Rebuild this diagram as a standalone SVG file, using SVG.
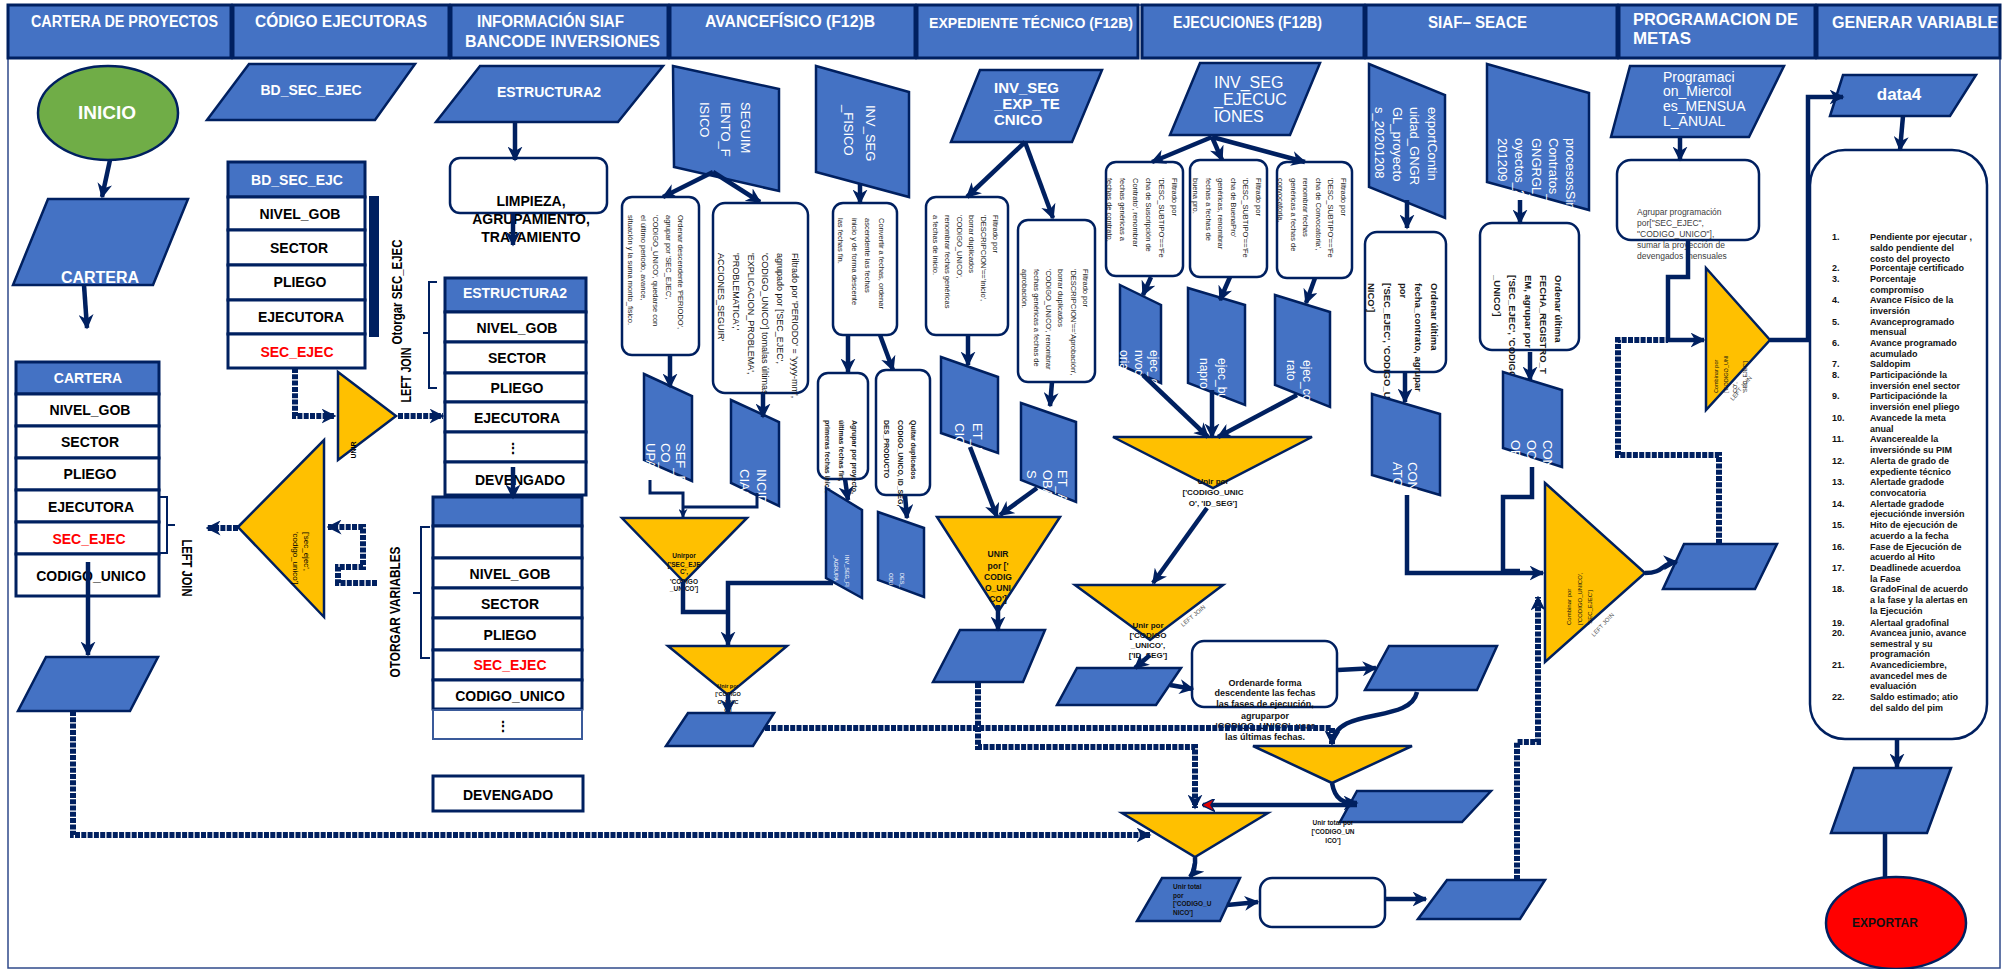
<svg xmlns="http://www.w3.org/2000/svg" width="2002" height="969" viewBox="0 0 2002 969">
<defs>
<style>
text{font-family:"Liberation Sans",Arial,sans-serif}
.h{fill:#4472C4;stroke:#002060;stroke-width:3}
.ht{font-weight:bold;font-size:16px;fill:#fff}
.io{fill:#4472C4;stroke:#002060;stroke-width:2.5}
.tr{fill:#FFC000;stroke:#002060;stroke-width:2.5}
.bx{fill:#fff;stroke:#002060;stroke-width:2.5}
.rw{fill:#fff;stroke:#002060;stroke-width:3}
.rh{fill:#4472C4;stroke:#002060;stroke-width:3}
.tb{font-weight:bold;font-size:14px;fill:#000;text-anchor:middle}
.tw{font-weight:bold;font-size:14px;fill:#fff;text-anchor:middle}
.red{fill:#FF0000}
.sw{font-size:13px;fill:#fff}
.n7{font-size:7.5px;fill:#1a1a1a}
.n7b{font-size:7px;fill:#1a1a1a;font-weight:bold}
.n9b{font-size:9.5px;fill:#1a1a1a;font-weight:bold}
.tiny{font-size:6.5px;fill:#111;font-weight:bold;text-anchor:middle}
.tl{font-size:8.5px;fill:#111;font-weight:bold;text-anchor:middle}
.gj{font-size:6px;fill:#555}
.li{font-size:9px;font-weight:bold;fill:#111}
.ln{fill:none;stroke:#002060;stroke-width:4.5;marker-end:url(#ah)}
.l3{fill:none;stroke:#002060;stroke-width:3;marker-end:url(#as)}
.pl{fill:none;stroke:#002060;stroke-width:4.5}
.ds{fill:none;stroke:#002060;stroke-width:6;stroke-dasharray:5 1.3}
.da{fill:none;stroke:#002060;stroke-width:6;stroke-dasharray:5 1.3;marker-end:url(#ah)}
.lr{fill:none;stroke:#002060;stroke-width:4.5;marker-end:url(#ar)}
.br{fill:none;stroke:#002060;stroke-width:2}
</style>
<marker id="ah" viewBox="0 0 10 10" refX="9" refY="5" markerWidth="15" markerHeight="15" markerUnits="userSpaceOnUse" orient="auto"><path d="M0,0 L10,5 L0,10 L3,5 z" fill="#002060"/></marker>
<marker id="as" viewBox="0 0 10 10" refX="9" refY="5" markerWidth="9" markerHeight="9" markerUnits="userSpaceOnUse" orient="auto"><path d="M0,0 L10,5 L0,10 L3,5 z" fill="#002060"/></marker>
<marker id="ar" viewBox="0 0 10 10" refX="9" refY="5" markerWidth="13" markerHeight="13" markerUnits="userSpaceOnUse" orient="auto"><path d="M0,0 L10,5 L0,10 L3,5 z" fill="#E00000" stroke="#002060" stroke-width="1"/></marker>
</defs>
<rect x="8" y="5" width="1992" height="963" fill="#fff" stroke="#2F4A8A" stroke-width="1.5"/>

<g id="header">
<rect class="h" x="8" y="5" width="223" height="53"/>
<rect class="h" x="233" y="5" width="216" height="53"/>
<rect class="h" x="451" y="5" width="217" height="53"/>
<rect class="h" x="670" y="5" width="245" height="53"/>
<rect class="h" x="917" y="5" width="221" height="53"/>
<rect class="h" x="1142" y="5" width="222" height="53"/>
<rect class="h" x="1366" y="5" width="251" height="53"/>
<rect class="h" x="1619" y="5" width="196" height="53"/>
<rect class="h" x="1817" y="5" width="183" height="53"/>
<text class="ht" x="31" y="27" textLength="187" lengthAdjust="spacingAndGlyphs">CARTERA DE PROYECTOS</text>
<text class="ht" x="255" y="27" textLength="172" lengthAdjust="spacingAndGlyphs">CÓDIGO EJECUTORAS</text>
<text class="ht" x="477" y="27" textLength="147" lengthAdjust="spacingAndGlyphs">INFORMACIÓN SIAF</text>
<text class="ht" x="465" y="47" textLength="195" lengthAdjust="spacingAndGlyphs">BANCODE INVERSIONES</text>
<text class="ht" x="705" y="27" textLength="170" lengthAdjust="spacingAndGlyphs">AVANCEFÍSICO (F12)B</text>
<text class="ht" x="929" y="28" textLength="204" lengthAdjust="spacingAndGlyphs" style="font-size:14px">EXPEDIENTE TÉCNICO (F12B)</text>
<text class="ht" x="1173" y="28" textLength="149" lengthAdjust="spacingAndGlyphs">EJECUCIONES (F12B)</text>
<text class="ht" x="1428" y="28" textLength="99" lengthAdjust="spacingAndGlyphs">SIAF– SEACE</text>
<text class="ht" x="1633" y="25" textLength="165" lengthAdjust="spacingAndGlyphs">PROGRAMACION DE</text>
<text class="ht" x="1633" y="44" textLength="58" lengthAdjust="spacingAndGlyphs">METAS</text>
<text class="ht" x="1832" y="28" textLength="166" lengthAdjust="spacingAndGlyphs">GENERAR VARIABLE</text>
</g>

<!-- Column 1 -->
<g id="inicio"><ellipse cx="108" cy="113" rx="70" ry="47" fill="#70AD47" stroke="#002060" stroke-width="2.5"/><text x="107" y="119" text-anchor="middle" font-weight="bold" font-size="19" fill="#fff">INICIO</text></g>
<g id="cartera-in"><polygon class="io" points="48,199 188,199 153,285 13,285"/><text class="tw" x="100" y="283" style="font-size:16px">CARTERA</text></g>
<g id="cartera-table">
<rect class="rh" x="16" y="362" width="143" height="32"/><text class="tw" x="88" y="383">CARTERA</text>
<rect class="rw" x="16" y="394" width="143" height="32"/><text class="tb" x="90" y="415">NIVEL_GOB</text>
<rect class="rw" x="16" y="426" width="143" height="32"/><text class="tb" x="90" y="447">SECTOR</text>
<rect class="rw" x="16" y="458" width="143" height="32"/><text class="tb" x="90" y="479">PLIEGO</text>
<rect class="rw" x="16" y="490" width="143" height="32"/><text class="tb" x="91" y="512">EJECUTORA</text>
<rect class="rw" x="16" y="522" width="143" height="32"/><text class="tb red" x="89" y="544">SEC_EJEC</text>
<rect class="rw" x="16" y="554" width="143" height="42"/><text class="tb" x="91" y="581">CODIGO_UNICO</text>
</g>
<g id="leftjoin1"><path class="br" d="M160,497 H167 V553 H160 M167,525 H175"/><text transform="translate(182,568) rotate(90)" text-anchor="middle" font-weight="bold" font-size="14" textLength="57" lengthAdjust="spacingAndGlyphs">LEFT JOIN</text></g>
<g id="cartera-out"><polygon class="io" points="46,657 158,657 130,711 18,711"/></g>

<!-- Column 2 -->
<g id="bd-sec-ejec"><polygon class="io" points="249,64 415,64 375,120 207,120"/><text class="tw" x="311" y="95">BD_SEC_EJEC</text></g>
<g id="bd-sec-ejc-table">
<rect class="rh" x="228" y="162" width="137" height="35"/><text class="tw" x="297" y="185">BD_SEC_EJC</text>
<rect class="rw" x="228" y="197" width="137" height="33"/><text class="tb" x="300" y="219">NIVEL_GOB</text>
<rect class="rw" x="228" y="230" width="137" height="35"/><text class="tb" x="299" y="253">SECTOR</text>
<rect class="rw" x="228" y="265" width="137" height="35"/><text class="tb" x="300" y="287">PLIEGO</text>
<rect class="rw" x="228" y="300" width="137" height="34"/><text class="tb" x="301" y="322">EJECUTORA</text>
<rect class="rw" x="228" y="334" width="137" height="34"/><text class="tb red" x="297" y="357">SEC_EJEC</text>
<rect x="369" y="196" width="10" height="141" fill="#002060"/>
</g>
<g id="otorgar-sec"><text transform="translate(402,292) rotate(-90)" text-anchor="middle" font-weight="bold" font-size="14" textLength="105" lengthAdjust="spacingAndGlyphs">Otorgar SEC_EJEC</text>
<text transform="translate(411,375) rotate(-90)" text-anchor="middle" font-weight="bold" font-size="14" textLength="55" lengthAdjust="spacingAndGlyphs">LEFT JOIN</text></g>
<g id="unir1"><polygon class="tr" points="338,372 338,460 396,416"/><text transform="translate(356,450) rotate(-90)" text-anchor="middle" font-size="7" font-weight="bold">UNIR</text></g>
<g id="leftjoin-tri"><polygon class="tr" points="238,527 324,440 324,617"/><text transform="translate(304,532) rotate(90)" font-size="8"><tspan x="0" y="0">['sec_ejec',</tspan><tspan x="0" y="11">'codigo_unico']</tspan></text></g>

<!-- Column 3 -->
<g id="estructura2-in"><polygon class="io" points="480,66 663,66 618,122 436,122"/><text class="tw" x="549" y="97">ESTRUCTURA2</text></g>
<g id="limpieza"><rect class="bx" x="450" y="158" width="157" height="55" rx="10"/><text class="tb" x="531" y="206"><tspan x="531">LIMPIEZA,</tspan><tspan x="531" y="224">AGRUPAMIENTO,</tspan><tspan x="531" y="242">TRATAMIENTO</tspan></text></g>
<g id="estructura2-table">
<rect class="rh" x="445" y="278" width="141" height="34"/><text class="tw" x="515" y="298">ESTRUCTURA2</text>
<rect class="rw" x="445" y="312" width="141" height="30"/><text class="tb" x="517" y="333">NIVEL_GOB</text>
<rect class="rw" x="445" y="342" width="141" height="31"/><text class="tb" x="517" y="363">SECTOR</text>
<rect class="rw" x="445" y="373" width="141" height="29"/><text class="tb" x="517" y="393">PLIEGO</text>
<rect class="rw" x="445" y="402" width="141" height="30"/><text class="tb" x="517" y="423">EJECUTORA</text>
<rect class="rw" x="445" y="432" width="141" height="30"/><text class="tb" x="513" y="453">⋮</text>
<rect class="rw" x="445" y="462" width="141" height="33"/><text class="tb" x="520" y="485">DEVENGADO</text>
</g>
<g id="bracket-otorgar"><path class="br" d="M437,282 H429 V388 H437 M429,333 H423"/></g>
<g id="variables-table">
<rect class="rh" x="433" y="497" width="149" height="29"/>
<rect class="rw" x="433" y="526" width="149" height="32"/>
<rect class="rw" x="433" y="558" width="149" height="30"/><text class="tb" x="510" y="579">NIVEL_GOB</text>
<rect class="rw" x="433" y="588" width="149" height="30"/><text class="tb" x="510" y="609">SECTOR</text>
<rect class="rw" x="433" y="618" width="149" height="32"/><text class="tb" x="510" y="640">PLIEGO</text>
<rect class="rw" x="433" y="650" width="149" height="30"/><text class="tb red" x="510" y="670">SEC_EJEC</text>
<rect class="rw" x="433" y="680" width="149" height="29"/><text class="tb" x="510" y="701">CODIGO_UNICO</text>
<rect x="433" y="710" width="149" height="29" fill="#fff" stroke="#3A5A9A" stroke-width="2"/><text class="tb" x="503" y="731">⋮</text>
</g>
<g id="otorgar-vars"><path class="br" d="M430,527 H421 V658 H430 M421,593 H413"/><text transform="translate(400,612) rotate(-90)" text-anchor="middle" font-weight="bold" font-size="14" textLength="131" lengthAdjust="spacingAndGlyphs">OTORGAR VARIABLES</text></g>
<g id="devengado"><rect class="rw" x="433" y="776" width="150" height="35"/><text class="tb" x="508" y="800">DEVENGADO</text></g>

<!-- Column 4 -->
<g id="seguimiento-fisico"><polygon class="io" points="673,66 779,89 779,191 674,167"/><text class="sw" transform="translate(741,102) rotate(90)"><tspan x="0" y="0">SEGUIM</tspan><tspan x="0" y="20.5">IENTO_F</tspan><tspan x="0" y="41">ISICO</tspan></text></g>
<g id="af-ordenar"><rect class="bx" x="622" y="197" width="77" height="158" rx="10"/><text class="n7" transform="translate(678,215) rotate(90)"><tspan x="0" y="0">Ordenar descendente 'PERIODO',</tspan><tspan x="0" y="12.5">agrupar por 'SEC_EJEC',</tspan><tspan x="0" y="25">'CODIGO_UNICO', quedarse con</tspan><tspan x="0" y="37.5">el último periodo, avance,</tspan><tspan x="0" y="50">situación y la suma monto_fisico.</tspan></text></g>
<g id="af-filtrado"><rect class="bx" x="713" y="203" width="95" height="190" rx="12"/><text transform="translate(792,253) rotate(90)" font-size="9" fill="#111"><tspan x="0" y="0">Filtrado por 'PERIODO' = 'yyyy-mm',</tspan><tspan x="0" y="14.8">agrupado por ['SEC_EJEC',</tspan><tspan x="0" y="29.6">'CODIGO_UNICO'] tomalas últimas</tspan><tspan x="0" y="44.4">'EXPLICACION_PROBLEMA',</tspan><tspan x="0" y="59.2">'PROBLEMATICA','</tspan><tspan x="0" y="74">ACCIONES_SEGUIR'</tspan></text></g>
<g id="sef-fisico-agrupado"><polygon class="io" points="644,374 692,396 692,481 644,460"/><text class="sw" transform="translate(676,443) rotate(90)"><tspan x="0" y="0">SEF_FISI</tspan><tspan x="0" y="15">CO_AGR</tspan><tspan x="0" y="30">UPADO</tspan></text></g>
<g id="incidencias"><polygon class="io" points="731,400 779,422 779,506 731,483"/><text class="sw" transform="translate(757,469) rotate(90)"><tspan x="0" y="0">INCIDEN</tspan><tspan x="0" y="17">CIAS</tspan></text></g>
<g id="af-unir"><polygon class="tr" points="622,518 747,518 684,582"/><text class="tiny" x="684" y="558">Unirpor</text><text class="tiny" x="684" y="567">['SEC_EJE</text><text class="tiny" x="684" y="574">C',</text><text class="tiny" x="684" y="584">'CODIGO</text><text class="tiny" x="684" y="591">_UNICO']</text></g>
<g id="af-unir2"><polygon class="tr" points="668,646 787,646 728,695"/><text class="tiny" x="728" y="688" style="font-size:5.5px">Unir por</text><text class="tiny" x="728" y="696" style="font-size:5.5px">['CODIGO</text><text class="tiny" x="728" y="704" style="font-size:5.5px">O_UNIC</text><text class="tiny" x="728" y="712" style="font-size:5.5px">O']</text></g>
<g id="af-out"><polygon class="io" points="688,713 774,713 753,746 666,746"/></g>
<g id="inv-seg-fisico"><polygon class="io" points="816,66 909,92 909,197 816,172"/><text class="sw" transform="translate(866,105) rotate(90)"><tspan x="0" y="0">INV_SEG</tspan><tspan x="0" y="22">_FISICO</tspan></text></g>
<g id="af-convertir"><rect class="bx" x="833" y="203" width="64" height="132" rx="10"/><text class="n7" transform="translate(879,218) rotate(90)"><tspan x="0" y="0">Convertir a fechas, ordenar</tspan><tspan x="0" y="13.7">ascendente las fechas</tspan><tspan x="0" y="27.4">inicio y de forma descente</tspan><tspan x="0" y="41">las fechas fin.</tspan></text></g>
<g id="af-agrupar"><rect class="bx" x="818" y="373" width="50" height="106" rx="10"/><text class="n7b" transform="translate(852,420) rotate(90)"><tspan x="0" y="0">Agrupar por proyecto,</tspan><tspan x="0" y="13.5">últimas fechas fin,</tspan><tspan x="0" y="27">primeras fechas inicio</tspan></text></g>
<g id="af-quitar"><rect class="bx" x="876" y="370" width="54" height="125" rx="10"/><text class="n7b" transform="translate(911,420) rotate(90)"><tspan x="0" y="0">Quitar duplicados</tspan><tspan x="0" y="13.5">CODIGO_UNICO, ID_SEG,</tspan><tspan x="0" y="27">DES_PRODUCTO</tspan></text></g>
<g id="inv-seg-fi-agrupa"><polygon class="io" points="826,488 862,510 862,598 826,578"/><text transform="translate(845,555) rotate(90)" font-size="5.5" fill="#fff"><tspan x="0" y="0">INV_SEG_FI</tspan><tspan x="0" y="11">_AGRUPA</tspan></text></g>
<g id="des-producto"><polygon class="io" points="878,512 924,528 924,597 878,580"/><text transform="translate(900,573) rotate(90)" font-size="5.5" fill="#fff"><tspan x="0" y="0">DES_</tspan><tspan x="0" y="11">ODU</tspan></text></g>

<!-- Column 5 -->
<g id="inv-seg-exp-tecnico"><polygon class="io" points="980,70 1102,70 1072,142 951,142"/><text font-weight="bold" font-size="15" fill="#fff"><tspan x="994" y="93">INV_SEG</tspan><tspan x="994" y="109">_EXP_TE</tspan><tspan x="994" y="125">CNICO</tspan></text></g>
<g id="et-inicio-box"><rect class="bx" x="926" y="197" width="82" height="138" rx="10"/><text class="n7" transform="translate(993,215) rotate(90)"><tspan x="0" y="0">Filtrado por</tspan><tspan x="0" y="12">'DESCRIPCION'=='Inicio',</tspan><tspan x="0" y="24">borrar duplicados</tspan><tspan x="0" y="36">'CODIGO_UNICO',</tspan><tspan x="0" y="48">renombrar fechas genéricas</tspan><tspan x="0" y="60">a fechas de inicio.</tspan></text></g>
<g id="et-aprob-box"><rect class="bx" x="1018" y="220" width="77" height="162" rx="10"/><text class="n7" transform="translate(1083,269) rotate(90)"><tspan x="0" y="0">Filtrado por</tspan><tspan x="0" y="12.3">'DESCRIPCION'=='Aprobación',</tspan><tspan x="0" y="24.6">borrar duplicados</tspan><tspan x="0" y="36.9">'CODIGO_UNICO', renombrar</tspan><tspan x="0" y="49.2">fechas genéricas a fechas de</tspan><tspan x="0" y="61.5">aprobación.</tspan></text></g>
<g id="et-inicio"><polygon class="io" points="941,357 998,377 998,453 941,433"/><text class="sw" transform="translate(973,423) rotate(90)"><tspan x="0" y="0">ET_INI</tspan><tspan x="0" y="18">CIO</tspan></text></g>
<g id="et-aprobados"><polygon class="io" points="1021,403 1076,422 1076,502 1021,480"/><text class="sw" transform="translate(1058,470) rotate(90)"><tspan x="0" y="0">ET_APR</tspan><tspan x="0" y="15.5">OBADO</tspan><tspan x="0" y="31">S</tspan></text></g>
<g id="et-unir"><polygon class="tr" points="937,517 1060,517 998,612"/><text class="tl" x="998" y="557">UNIR</text><text class="tl" x="998" y="569">por ['</text><text class="tl" x="998" y="580">CODIG</text><text class="tl" x="998" y="591">O_UNI</text><text class="tl" x="998" y="602">CO']</text></g>
<g id="et-out"><polygon class="io" points="960,630 1045,630 1023,682 933,682"/></g>

<!-- Column 6 -->
<g id="inv-seg-ejecuciones"><polygon class="io" points="1200,63 1320,63 1290,135 1170,135"/><text font-size="16" fill="#fff"><tspan x="1214" y="88">INV_SEG</tspan><tspan x="1214" y="105">_EJECUC</tspan><tspan x="1214" y="122">IONES</tspan></text></g>
<g id="ej-contrato-box"><rect class="bx" x="1106" y="162" width="77" height="114" rx="10"/><text class="n7" transform="translate(1172,178) rotate(90)"><tspan x="0" y="0">Filtrado por</tspan><tspan x="0" y="13">'DESC_SUBTIPO'=='Fe</tspan><tspan x="0" y="26">cha de Suscripción de</tspan><tspan x="0" y="39">Contrato', renombrar</tspan><tspan x="0" y="52">fechas genéricas a</tspan><tspan x="0" y="65">fechas de contrato.</tspan></text></g>
<g id="ej-buenapro-box"><rect class="bx" x="1190" y="160" width="77" height="117" rx="10"/><text class="n7" transform="translate(1256,178) rotate(90)"><tspan x="0" y="0">Filtrado por</tspan><tspan x="0" y="12.6">'DESC_SUBTIPO'=='Fe</tspan><tspan x="0" y="25.2">cha de BuenaPro'</tspan><tspan x="0" y="37.8">genéricas, renombrar</tspan><tspan x="0" y="50.4">fechas a fechas de</tspan><tspan x="0" y="63">buena pro.</tspan></text></g>
<g id="ej-convoc-box"><rect class="bx" x="1277" y="162" width="75" height="116" rx="10"/><text class="n7" transform="translate(1341,178) rotate(90)"><tspan x="0" y="0">Filtrado por</tspan><tspan x="0" y="12.6">'DESC_SUBTIPO'=='Fe</tspan><tspan x="0" y="25.2">cha de Convocatoria',</tspan><tspan x="0" y="37.8">renombrar fechas</tspan><tspan x="0" y="50.4">genéricas a fechas de</tspan><tspan x="0" y="63">convocatoria.</tspan></text></g>
<g id="ejec-convocatoria"><polygon class="io" points="1120,285 1161,305 1161,383 1120,365"/><text transform="translate(1150,350) rotate(90)" font-size="12" fill="#fff"><tspan x="0" y="0">ejec_co</tspan><tspan x="0" y="15">nvocat</tspan><tspan x="0" y="30">oria</tspan></text></g>
<g id="ejec-buenapro"><polygon class="io" points="1188,288 1245,305 1245,405 1188,383"/><text transform="translate(1218,358) rotate(90)" font-size="12" fill="#fff"><tspan x="0" y="0">ejec_bue</tspan><tspan x="0" y="18">napro</tspan></text></g>
<g id="ejec-contrato"><polygon class="io" points="1275,295 1330,312 1330,407 1275,385"/><text transform="translate(1303,360) rotate(90)" font-size="12" fill="#fff"><tspan x="0" y="0">ejec_con</tspan><tspan x="0" y="16">rato</tspan></text></g>
<g id="ej-unir"><polygon class="tr" points="1113,437 1312,437 1213,488"/><text class="tl" x="1213" y="484" style="font-size:8px">Unir por</text><text class="tl" x="1213" y="495" style="font-size:8px">['CODIGO_UNIC</text><text class="tl" x="1213" y="506" style="font-size:8px">O', 'ID_SEG']</text></g>
<g id="ej-unir2"><polygon class="tr" points="1075,585 1223,585 1150,640"/><text class="tl" x="1148" y="628" style="font-size:8px">Unir por</text><text class="tl" x="1148" y="638" style="font-size:8px">['CODIGO</text><text class="tl" x="1148" y="648" style="font-size:8px">_UNICO',</text><text class="tl" x="1148" y="658" style="font-size:8px">['ID_SEG']</text><text class="gj" transform="translate(1183,627) rotate(-40)">LEFT JOIN</text></g>
<g id="ej-out"><polygon class="io" points="1077,668 1181,668 1156,705 1057,705"/></g>
<g id="ej-ordenar"><rect class="bx" x="1192" y="641" width="145" height="66" rx="12"/><text class="tl" style="font-size:9px"><tspan x="1265" y="686">Ordenarde forma</tspan><tspan x="1265" y="696">descendente las fechas</tspan><tspan x="1265" y="707">las fases de ejecución,</tspan><tspan x="1265" y="719">agruparpor</tspan><tspan x="1265" y="729">'CODIGO_UNICO', usar</tspan><tspan x="1265" y="740">las últimas fechas.</tspan></text></g>
<g id="ej-fases"><polygon class="io" points="1389,646 1497,646 1477,690 1365,690"/></g>
<g id="mid-unir"><polygon class="tr" points="1253,746 1412,746 1332,783"/></g>
<g id="mid-out"><polygon class="io" points="1357,791 1491,791 1462,822 1340,822"/><text class="tiny" x="1333" y="825">Unir total por</text><text class="tiny" x="1333" y="834">['CODIGO_UN</text><text class="tiny" x="1333" y="843">ICO']</text></g>
<g id="total-unir"><polygon class="tr" points="1122,813 1268,813 1195,857"/></g>
<g id="total-out"><polygon class="io" points="1162,878 1240,878 1220,921 1137,921"/><text font-size="6.5" font-weight="bold" fill="#111"><tspan x="1173" y="889">Unir total</tspan><tspan x="1173" y="898">por</tspan><tspan x="1173" y="906">['CODIGO_U</tspan><tspan x="1173" y="915">NICO']</tspan></text></g>
<g id="total-box"><rect class="bx" x="1260" y="878" width="125" height="49" rx="12"/></g>
<g id="total-data"><polygon class="io" points="1447,880 1545,880 1520,919 1418,919"/></g>

<!-- Column 7 -->
<g id="export-continuidad"><polygon class="io" points="1369,64 1445,95 1445,218 1369,187"/><text class="sw" transform="translate(1428,107) rotate(90)"><tspan x="0" y="0">exportContin</tspan><tspan x="0" y="17.6">uidad_GNGR</tspan><tspan x="0" y="35.2">GL_proyecto</tspan><tspan x="0" y="52.8">s_20201208</tspan></text></g>
<g id="siaf-ordenar1"><rect class="bx" x="1365" y="232" width="81" height="140" rx="12"/><text class="n9b" transform="translate(1431,283) rotate(90)"><tspan x="0" y="0">Ordenar última</tspan><tspan x="0" y="15.7">fecha_contrato, agrupar</tspan><tspan x="0" y="31.4">por</tspan><tspan x="0" y="47.1">['SEC_EJEC', 'CODIGO_U</tspan><tspan x="0" y="62.8">NICO']</tspan></text></g>
<g id="contrato"><polygon class="io" points="1372,394 1440,414 1440,495 1372,475"/><text class="sw" transform="translate(1408,462) rotate(90)"><tspan x="0" y="0">CONTR</tspan><tspan x="0" y="15">ATO</tspan></text></g>
<g id="procesos-sin"><polygon class="io" points="1487,64 1589,93 1589,210 1487,182"/><text class="sw" transform="translate(1566,138) rotate(90)"><tspan x="0" y="0">procesosSin</tspan><tspan x="0" y="17">Contratos_</tspan><tspan x="0" y="34">GNGRGL_pr</tspan><tspan x="0" y="51">oyectos_20</tspan><tspan x="0" y="68">201209</tspan></text></g>
<g id="siaf-ordenar2"><rect class="bx" x="1480" y="223" width="99" height="127" rx="12"/><text class="n9b" transform="translate(1555,275) rotate(90)"><tspan x="0" y="0">Ordenar última</tspan><tspan x="0" y="15.2">FECHA_REGISTRO_T</tspan><tspan x="0" y="30.4">EM, agrupar por</tspan><tspan x="0" y="45.6">['SEC_EJEC', 'CODIGO</tspan><tspan x="0" y="60.8">_UNICO']</tspan></text></g>
<g id="convocatoria"><polygon class="io" points="1503,372 1562,390 1562,467 1503,448"/><text class="sw" transform="translate(1543,440) rotate(90)"><tspan x="0" y="0">CONV</tspan><tspan x="0" y="16">OCAT</tspan><tspan x="0" y="32">ORIA</tspan></text></g>
<g id="siaf-combinar"><polygon class="tr" points="1545,483 1645,573 1545,662"/><text transform="translate(1571,625) rotate(-90)" font-size="6" fill="#111"><tspan x="0" y="0">Combinar por</tspan><tspan x="0" y="10.5">['CODIGO_UNICO',</tspan><tspan x="0" y="21">'SEC_EJEC']</tspan></text><text class="gj" transform="translate(1594,637) rotate(-47)">LEFT JOIN</text></g>
<g id="siaf-out"><polygon class="io" points="1684,544 1777,544 1755,589 1663,589"/></g>

<!-- Column 8 -->
<g id="programacion"><polygon class="io" points="1630,66 1784,66 1749,137 1611,137"/><text font-size="14" fill="#fff"><tspan x="1663" y="82">Programaci</tspan><tspan x="1663" y="96">on_Miercol</tspan><tspan x="1663" y="111">es_MENSUA</tspan><tspan x="1663" y="126">L_ANUAL</tspan></text></g>
<g id="prog-agrupar"><rect class="bx" x="1617" y="160" width="142" height="80" rx="14"/><text font-size="8.5" fill="#404040"><tspan x="1637" y="215">Agrupar programación</tspan><tspan x="1637" y="226">por["SEC_EJEC",</tspan><tspan x="1637" y="237">"CODIGO_UNICO"],</tspan><tspan x="1637" y="248">sumar la proyección de</tspan><tspan x="1637" y="259">devengados mensuales</tspan></text></g>
<g id="prog-combinar"><polygon class="tr" points="1706,268 1770,340 1706,410"/><text transform="translate(1718,393) rotate(-90)" font-size="5.5" fill="#111"><tspan x="0" y="0">Combinar por</tspan><tspan x="0" y="9.5">['CODIGO_UNI</tspan><tspan x="0" y="19">CO',</tspan><tspan x="0" y="28.5">'SEC_EJEC']</tspan></text><text class="gj" transform="translate(1733,401) rotate(-50)">LEFT JOIN</text></g>

<!-- Column 9 -->
<g id="data4"><polygon class="io" points="1843,75 1976,75 1950,116 1830,116"/><text x="1899" y="100" text-anchor="middle" font-weight="bold" font-size="17" fill="#fff">data4</text></g>
<g id="variables-list"><rect class="bx" x="1810" y="150" width="177" height="589" rx="35"/>
<text class="li"><tspan x="1832" y="240">1.</tspan><tspan x="1832" y="271">2.</tspan><tspan x="1832" y="282">3.</tspan><tspan x="1832" y="303">4.</tspan><tspan x="1832" y="325">5.</tspan><tspan x="1832" y="346">6.</tspan><tspan x="1832" y="367">7.</tspan><tspan x="1832" y="378">8.</tspan><tspan x="1832" y="399">9.</tspan><tspan x="1832" y="421">10.</tspan><tspan x="1832" y="442">11.</tspan><tspan x="1832" y="464">12.</tspan><tspan x="1832" y="485">13.</tspan><tspan x="1832" y="507">14.</tspan><tspan x="1832" y="528">15.</tspan><tspan x="1832" y="550">16.</tspan><tspan x="1832" y="571">17.</tspan><tspan x="1832" y="592">18.</tspan><tspan x="1832" y="626">19.</tspan><tspan x="1832" y="636">20.</tspan><tspan x="1832" y="668">21.</tspan><tspan x="1832" y="700">22.</tspan></text>
<text class="li"><tspan x="1870" y="240">Pendiente por ejecutar ,</tspan><tspan x="1870" y="251">saldo pendiente del</tspan><tspan x="1870" y="262">costo del proyecto</tspan><tspan x="1870" y="271">Porcentaje certificado</tspan><tspan x="1870" y="282">Porcentaje</tspan><tspan x="1870" y="293">compromiso</tspan><tspan x="1870" y="303">Avance Físico de la</tspan><tspan x="1870" y="314">inversión</tspan><tspan x="1870" y="325">Avanceprogramado</tspan><tspan x="1870" y="335">mensual</tspan><tspan x="1870" y="346">Avance programado</tspan><tspan x="1870" y="357">acumulado</tspan><tspan x="1870" y="367">Saldopim</tspan><tspan x="1870" y="378">Participaciónde la</tspan><tspan x="1870" y="389">inversión enel sector</tspan><tspan x="1870" y="399">Participaciónde la</tspan><tspan x="1870" y="410">inversión enel pliego</tspan><tspan x="1870" y="421">Avancede la meta</tspan><tspan x="1870" y="432">anual</tspan><tspan x="1870" y="442">Avancerealde la</tspan><tspan x="1870" y="453">inversiónde su PIM</tspan><tspan x="1870" y="464">Alerta de grado de</tspan><tspan x="1870" y="475">expediente técnico</tspan><tspan x="1870" y="485">Alertade gradode</tspan><tspan x="1870" y="496">convocatoria</tspan><tspan x="1870" y="507">Alertade gradode</tspan><tspan x="1870" y="517">ejecuciónde inversión</tspan><tspan x="1870" y="528">Hito de ejecución de</tspan><tspan x="1870" y="539">acuerdo a la fecha</tspan><tspan x="1870" y="550">Fase de Ejecución de</tspan><tspan x="1870" y="560">acuerdo al Hito</tspan><tspan x="1870" y="571">Deadlinede acuerdoa</tspan><tspan x="1870" y="582">la Fase</tspan><tspan x="1870" y="592">GradoFinal de acuerdo</tspan><tspan x="1870" y="603">a la fase y la alertas en</tspan><tspan x="1870" y="614">la Ejecución</tspan><tspan x="1870" y="626">Alertaal gradofinal</tspan><tspan x="1870" y="636">Avancea junio, avance</tspan><tspan x="1870" y="647">semestral y su</tspan><tspan x="1870" y="657">programación</tspan><tspan x="1870" y="668">Avancediciembre,</tspan><tspan x="1870" y="679">avancedel mes de</tspan><tspan x="1870" y="689">evaluación</tspan><tspan x="1870" y="700">Saldo estimado; atio</tspan><tspan x="1870" y="711">del saldo del pim</tspan></text>
</g>
<g id="final-data"><polygon class="io" points="1854,768 1951,768 1927,833 1831,833"/></g>
<g id="exportar"><ellipse cx="1896" cy="923" rx="70" ry="46" fill="#FF0000" stroke="#002060" stroke-width="2.5"/><text x="1885" y="927" text-anchor="middle" font-weight="bold" font-size="12" fill="#111">EXPORTAR</text></g>

<g id="connectors">
<path class="ln" d="M110,160 L102,197"/>
<path class="ln" d="M84,285 L87,328"/>
<path class="ln" d="M88,562 V655"/>
<path class="da" d="M73,711 V835 H1150"/>
<path class="da" d="M295,368 V416 H335"/>
<path class="da" d="M398,416 H443"/>
<path class="da" d="M377,583 H338 V567 H363 V527 H328"/>
<path class="da" d="M238,528 H207"/>
<path class="ln" d="M515,122 V160"/>
<path class="ln" d="M513,213 V245"/>
<path class="ln" d="M513,467 V498"/>
<path class="ln" d="M713,172 L663,197"/>
<path class="ln" d="M713,172 L760,202"/>
<path class="ln" d="M670,355 V387"/>
<path class="ln" d="M763,393 V417"/>
<path class="l3" d="M650,480 V493 H683 V517"/>
<path class="pl" style="stroke-width:3" d="M757,493 V507 H683"/>
<path class="pl" d="M683,582 V612 H728"/>
<path class="ln" d="M833,583 H728 V645"/>
<path class="ln" d="M728,695 V713"/>
<path class="da" d="M765,728 H1332 V744"/>
<path class="ln" d="M860,183 V203"/>
<path class="ln" d="M848,335 V372"/>
<path class="ln" d="M880,335 L893,370"/>
<path class="ln" d="M845,479 L848,500"/>
<path class="ln" d="M905,495 L907,518"/>
<path class="ln" d="M1025,142 L967,197"/>
<path class="ln" d="M1025,142 L1053,218"/>
<path class="ln" d="M968,335 V365"/>
<path class="ln" d="M1052,382 L1050,406"/>
<path class="ln" d="M970,447 L997,517"/>
<path class="ln" d="M1037,488 L1000,515"/>
<path class="ln" d="M998,605 V630"/>
<path class="da" d="M978,683 V747 H1195 V808"/>
<path class="ln" d="M1212,137 L1152,162"/>
<path class="ln" d="M1212,137 L1222,160"/>
<path class="ln" d="M1212,137 L1305,162"/>
<path class="ln" d="M1151,277 L1143,295"/>
<path class="ln" d="M1230,277 L1220,300"/>
<path class="ln" d="M1315,278 L1306,303"/>
<path class="ln" d="M1143,375 L1208,437"/>
<path class="ln" d="M1212,390 V437"/>
<path class="ln" d="M1297,395 L1218,437"/>
<path class="ln" d="M1207,508 L1153,583"/>
<path class="ln" d="M1150,655 L1135,668"/>
<path class="ln" d="M1170,685 L1193,689"/>
<path class="ln" d="M1338,670 L1376,668"/>
<path class="ln" d="M1417,692 C1410,725 1335,705 1332,744"/>
<path class="ln" d="M1332,783 C1335,800 1343,803 1357,803"/>
<path class="lr" d="M1357,805 H1203"/>
<path class="ln" d="M1195,857 Q1196,870 1190,877"/>
<path class="ln" d="M1227,905 L1258,902"/>
<path class="ln" d="M1385,899 H1426"/>
<path class="da" d="M1517,880 V742 H1538 V597"/>
<path class="ln" d="M1407,200 V228"/>
<path class="ln" d="M1405,373 V402"/>
<path class="ln" d="M1407,495 V573 H1543"/>
<path class="ln" d="M1520,200 V223"/>
<path class="ln" d="M1530,352 V380"/>
<path class="pl" d="M1532,467 V497 H1503 V571 H1520"/>
<path class="ln" d="M1645,573 C1665,573 1660,563 1677,562"/>
<path class="ds" d="M1719,544 V455 H1618 V340 H1668"/>
<path class="ln" d="M1680,137 V160"/>
<path class="ln" d="M1688,240 V277 H1668 V340 H1704"/>
<path class="ln" d="M1770,340 H1808 V97 H1843"/>
<path class="ln" d="M1903,116 L1900,150"/>
<path class="ln" d="M1897,739 V767"/>
<path class="pl" d="M1885,833 V877"/>
</g>
</svg>
